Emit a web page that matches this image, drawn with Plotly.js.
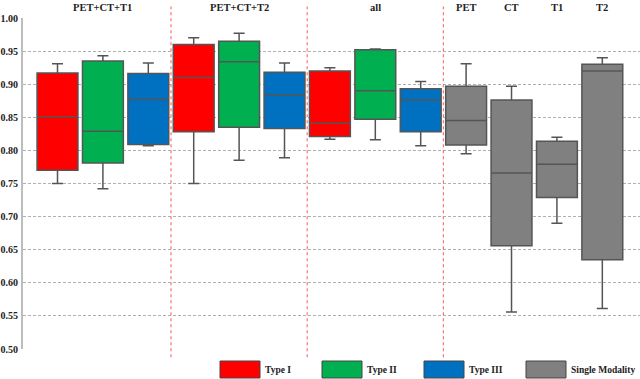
<!DOCTYPE html>
<html>
<head>
<meta charset="utf-8">
<script src="https://cdn.plot.ly/plotly-3.0.1.min.js"></script>
<style>
  html, body { margin: 0; padding: 0; background: white; }
  #chart { width: 640px; height: 379px; }
</style>
</head>
<body>
<div id="chart"></div>
<script>
// Combined-modality groups, then the single-modality boxes
const GROUPS  = ["PET+CT+T1", "PET+CT+T2", "all"];
const SINGLES = ["PET", "CT", "T1", "T2"];

// five-number summaries: [lower, q1, median, q3, upper]
const typeI_low = [0.750, 0.750, 0.817];
const typeI_q1  = [0.770, 0.828, 0.821];
const typeI_med = [0.851, 0.910, 0.841];
const typeI_q3  = [0.917, 0.960, 0.920];
const typeI_up  = [0.931, 0.970, 0.925];

const typeII_low = [0.742, 0.785, 0.816];
const typeII_q1  = [0.781, 0.835, 0.847];
const typeII_med = [0.829, 0.934, 0.890];
const typeII_q3  = [0.935, 0.965, 0.952];
const typeII_up  = [0.943, 0.977, 0.953];

const typeIII_low = [0.807, 0.789, 0.807];
const typeIII_q1  = [0.809, 0.833, 0.828];
const typeIII_med = [0.877, 0.884, 0.876];
const typeIII_q3  = [0.916, 0.918, 0.893];
const typeIII_up  = [0.932, 0.932, 0.904];

const single_low = [0.795, 0.556, 0.690, 0.561];
const single_q1  = [0.808, 0.656, 0.729, 0.635];
const single_med = [0.845, 0.766, 0.779, 0.920];
const single_q3  = [0.897, 0.876, 0.814, 0.930];
const single_up  = [0.931, 0.897, 0.820, 0.940];

const SERIES_NAMES  = ["Type I", "Type II", "Type III", "Single Modality"];
const SERIES_COLORS = ["#ff0000", "#00b050", "#0070c0", "#808080"];

const FONT = { family: "Liberation Serif, DejaVu Serif, serif", color: "#222", size: 10, weight: "bold" };

// x slots: 3 per combined group, then one per single modality
const groupX = (k) => GROUPS.map((_, g) => g * 3 + k);
const singleX = SINGLES.map((_, i) => GROUPS.length * 3 + i);

function boxTrace(name, color, x, low, q1, med, q3, up) {
  return {
    type: "box", name, x,
    lowerfence: low, q1, median: med, q3, upperfence: up,
    boxpoints: false,
    width: 0.9,
    whiskerwidth: 0.27,
    fillcolor: color,
    line: { color: "#555555", width: 1.5 },
    showlegend: false,
    hoverinfo: "skip",
  };
}

const data = [
  boxTrace(SERIES_NAMES[0], SERIES_COLORS[0], groupX(0), typeI_low, typeI_q1, typeI_med, typeI_q3, typeI_up),
  boxTrace(SERIES_NAMES[1], SERIES_COLORS[1], groupX(1), typeII_low, typeII_q1, typeII_med, typeII_q3, typeII_up),
  boxTrace(SERIES_NAMES[2], SERIES_COLORS[2], groupX(2), typeIII_low, typeIII_q1, typeIII_med, typeIII_q3, typeIII_up),
  boxTrace(SERIES_NAMES[3], SERIES_COLORS[3], singleX, single_low, single_q1, single_med, single_q3, single_up),
];

// red dotted separators between the groups
const shapes = [2.5, 5.5, 8.5].map((x) => ({
  type: "line", xref: "x", yref: "paper", x0: x, x1: x, y0: -0.025, y1: 1.035,
  line: { color: "#ff7070", width: 1.2, dash: "dot" },
}));

// header labels above each group / single box
const annotations = [
  ...GROUPS.map((t, g) => ({ text: t, x: g * 3 + 1 })),
  ...SINGLES.map((t, i) => ({ text: t, x: singleX[i] })),
].map((a) => ({
  ...a, xref: "x", yref: "paper", y: 1.033, yanchor: "middle",
  showarrow: false, font: { ...FONT, size: 10.5 },
}));

// hand-drawn legend row under the plot
const PLOT_L = 23, PLOT_W = 617, PLOT_B = 349, PLOT_H = 331;
const px = (v) => (v - PLOT_L) / PLOT_W;
const py = (v) => (PLOT_B - v) / PLOT_H;
SERIES_NAMES.forEach((name, i) => {
  const left = 220 + i * 102;
  shapes.push({
    type: "rect", xref: "paper", yref: "paper",
    x0: px(left), x1: px(left + 40), y0: py(378), y1: py(361),
    fillcolor: SERIES_COLORS[i], line: { color: "#444", width: 1 },
  });
  annotations.push({
    text: name, xref: "paper", yref: "paper", x: px(left + 43), y: py(370),
    xanchor: "left", yanchor: "middle", showarrow: false, font: { ...FONT, size: 9.5 },
  });
});

const layout = {
  width: 640, height: 379,
  margin: { l: PLOT_L, r: 0, t: 18, b: 30 },
  paper_bgcolor: "white", plot_bgcolor: "white",
  font: FONT,
  boxmode: "overlay",
  xaxis: {
    range: [-0.76, 12.83], showticklabels: false, showgrid: false,
    zeroline: false, showline: false, ticks: "",
  },
  yaxis: {
    range: [0.5, 1.0], dtick: 0.05, tick0: 0.5, tickformat: ".2f",
    showgrid: true, gridcolor: "#b0b0b0", griddash: "3px,2px", gridwidth: 1,
    zeroline: false, showline: true, linecolor: "#bdbdbd", linewidth: 2,
    ticks: "", ticklabelstandoff: 1, tickfont: FONT,
  },
  shapes, annotations,
};

Plotly.newPlot("chart", data, layout, { displayModeBar: false, staticPlot: true });
</script>
</body>
</html>
